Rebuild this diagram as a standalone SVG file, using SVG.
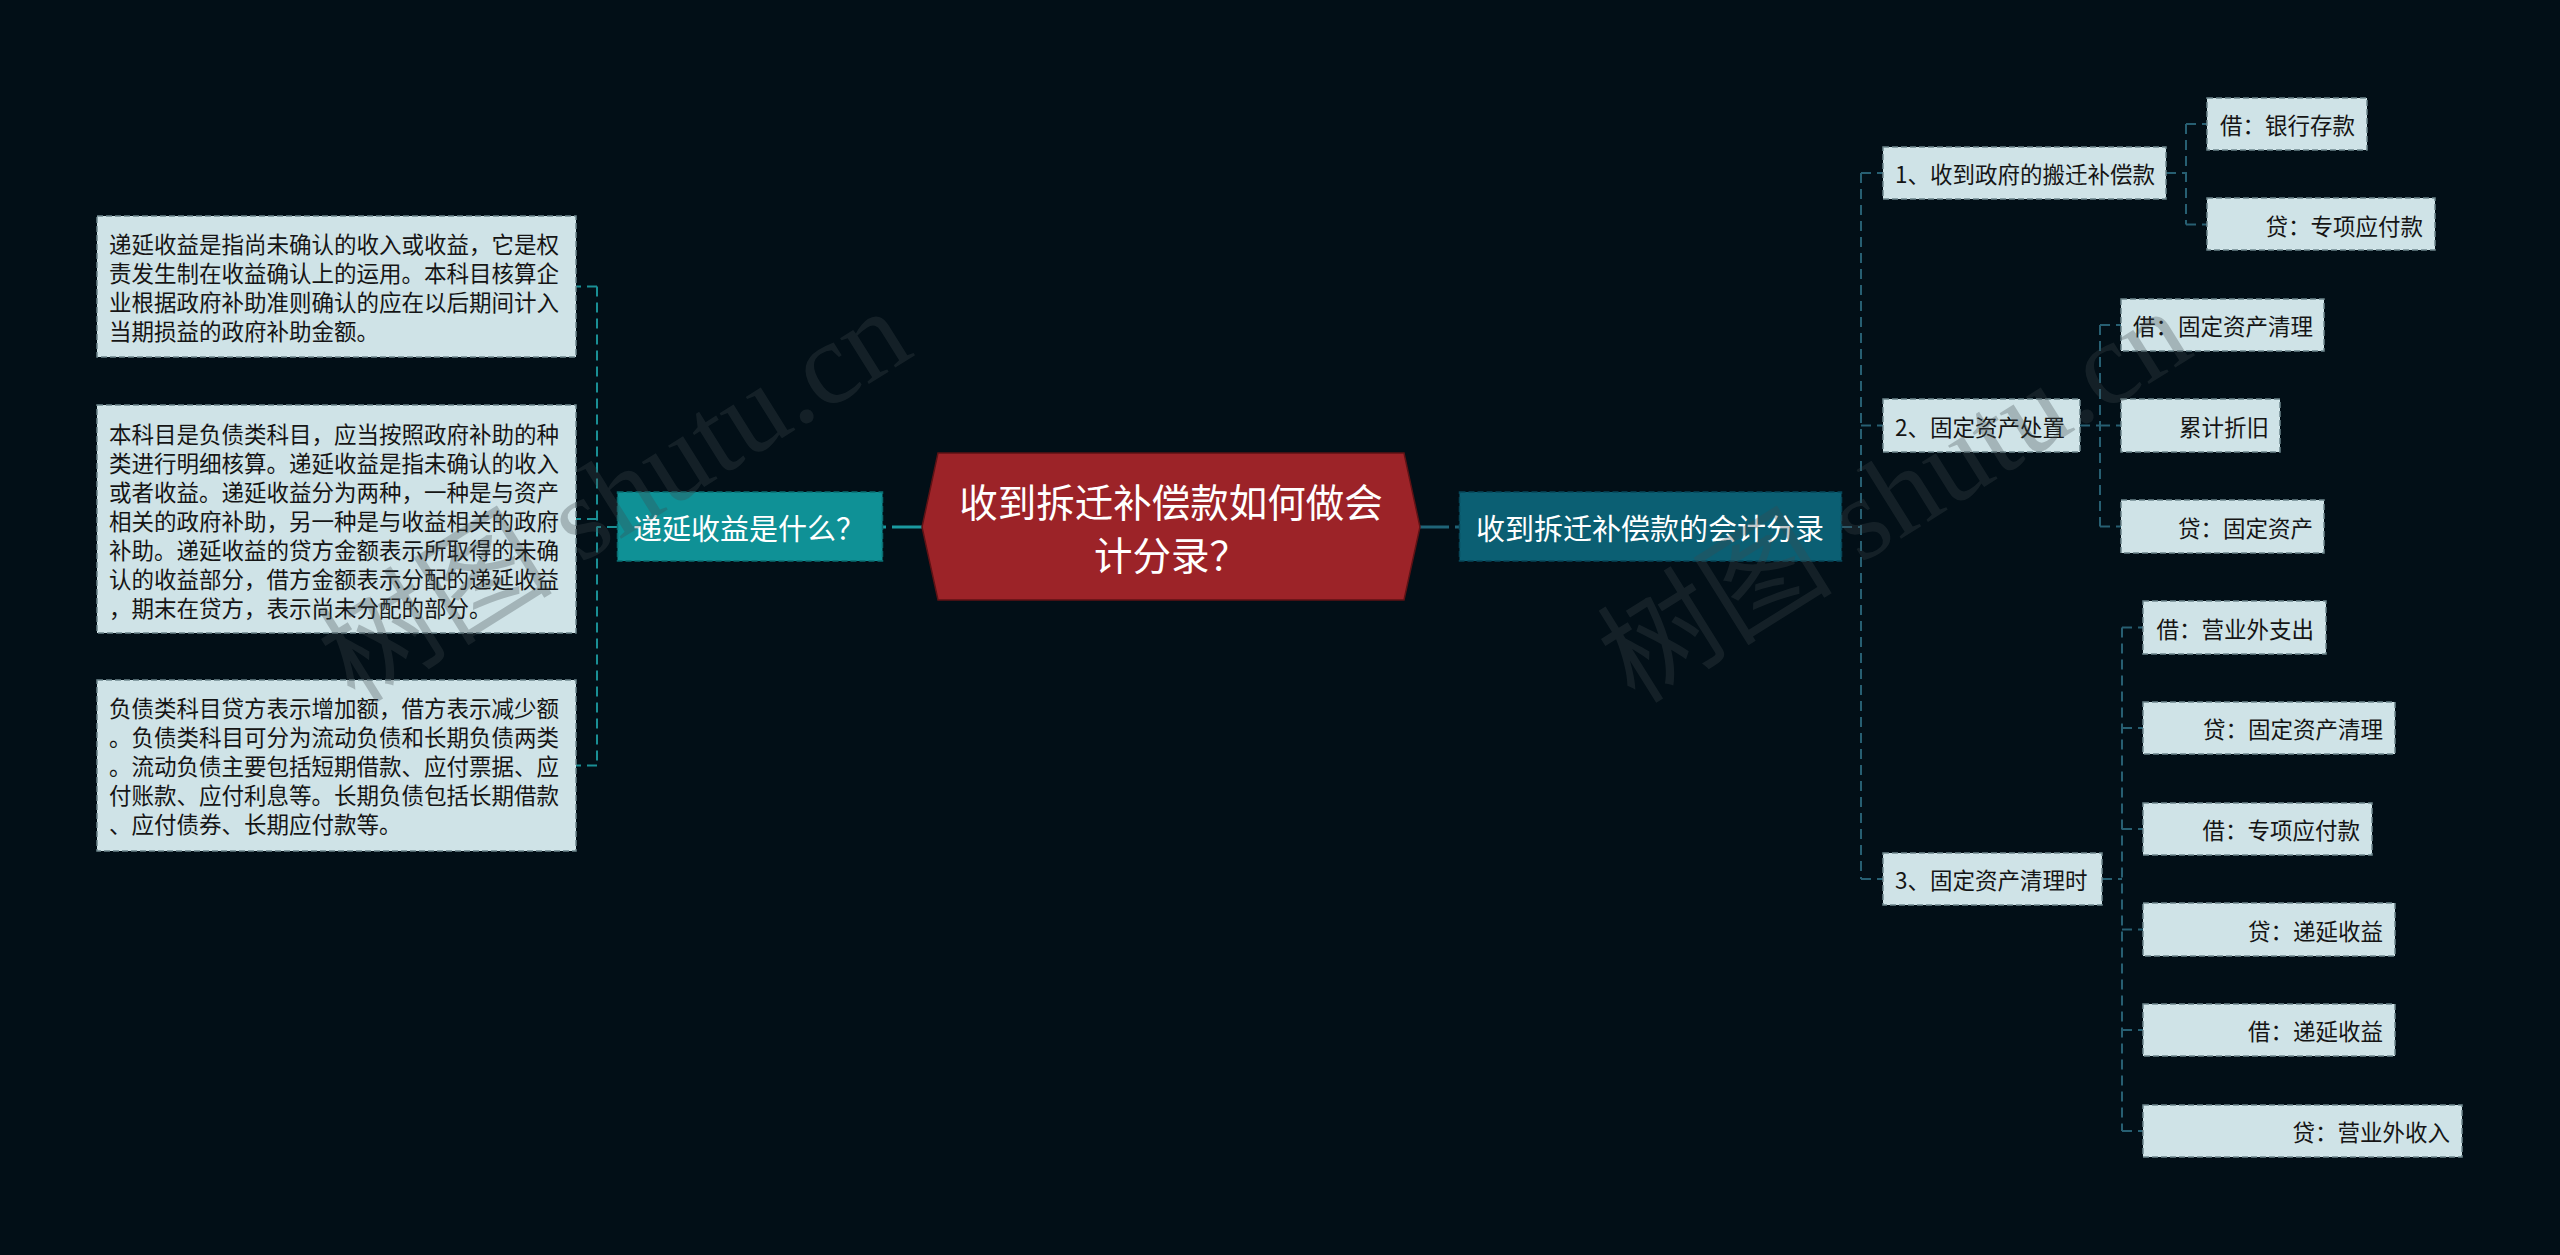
<svg xmlns="http://www.w3.org/2000/svg" width="2560" height="1255" viewBox="0 0 2560 1255">
<style>
text{font-family:"Noto Sans CJK SC","Noto Sans",sans-serif}
.bg{fill:#020f17}
.leaf{fill:#cfe3e7;stroke:#6e878d;stroke-width:1.5;stroke-dasharray:6 3}
.leaf-t{font-size:22.5px;fill:#151515;dominant-baseline:central}
.desc-t{font-size:22.5px;fill:#151515}
.teal{fill:#0f9196;stroke:#0a6d72;stroke-width:1.5;stroke-dasharray:6 3}
.blue{fill:#0b5f73;stroke:#07475a;stroke-width:1.5;stroke-dasharray:6 3}
.main-t{font-size:29px;fill:#ffffff;dominant-baseline:central}
.root{fill:#9c2328;stroke:#5e1215;stroke-width:1.5}
.root-t{font-size:38.5px;fill:#ffffff;dominant-baseline:central;text-anchor:middle}
.cl{fill:none;stroke:#1a8f95;stroke-width:2;stroke-dasharray:10 6}
.cr{fill:none;stroke:#275f72;stroke-width:2;stroke-dasharray:10 6}
.ctl{fill:none;stroke:#1a9aa0;stroke-width:3;stroke-dasharray:30 6}
.ctr{fill:none;stroke:#1f6478;stroke-width:3;stroke-dasharray:30 6}
.wm{font-family:"Liberation Serif","Noto Sans CJK SC",serif;font-size:118px;fill:#3f4a4e;opacity:0.3}
</style>
<rect class="bg" x="0" y="0" width="2560" height="1255"/>

<g id="connectors">
  <!-- center links -->
  <path class="ctl" d="M922,527 H883"/>
  <path class="ctr" d="M1419,527 H1460"/>
  <!-- left tree -->
  <path class="cl" d="M617,527 H597"/>
  <path class="cl" d="M597,286.5 V765.5"/>
  <path class="cl" d="M597,286.5 H576 M597,519 H576 M597,765.5 H576"/>
  <!-- right tree -->
  <path class="cr" d="M1842,527 H1861"/>
  <path class="cr" d="M1861,173 V879"/>
  <path class="cr" d="M1861,173 H1883 M1861,425.5 H1883 M1861,879 H1883"/>
  <!-- item1 children -->
  <path class="cr" d="M2166,173 H2186 M2186,124 V224.5 M2186,124 H2207 M2186,224.5 H2207"/>
  <!-- item2 children -->
  <path class="cr" d="M2080,425.5 H2100 M2100,325 V526.5 M2100,325 H2121 M2100,425.5 H2121 M2100,526.5 H2121"/>
  <!-- item3 children -->
  <path class="cr" d="M2102,879 H2122 M2122,627.5 V1131 M2122,627.5 H2143 M2122,728 H2143 M2122,829 H2143 M2122,929.5 H2143 M2122,1030 H2143 M2122,1131 H2143"/>
</g>

<g id="root">
  <polygon class="root" points="922,527 938,453 1404,453 1420,527 1404,600 938,600"/>
  <text class="root-t" x="1171" y="500">收到拆迁补偿款如何做会</text>
  <text class="root-t" x="1171" y="553">计分录？</text>
</g>

<g id="n-left">
  <rect class="teal" x="617.5" y="492" width="265" height="69"/>
  <text class="main-t" x="633" y="527">递延收益是什么？</text>
</g>

<g id="n-right">
  <rect class="blue" x="1459.5" y="492" width="382" height="69"/>
  <text class="main-t" x="1476" y="527">收到拆迁补偿款的会计分录</text>
</g>

<g id="desc1">
  <rect class="leaf" x="97" y="216" width="479" height="141"/>
  <text class="desc-t" x="109" dominant-baseline="central">
    <tspan x="109" y="243">递延收益是指尚未确认的收入或收益，它是权</tspan>
    <tspan x="109" y="272">责发生制在收益确认上的运用。本科目核算企</tspan>
    <tspan x="109" y="301">业根据政府补助准则确认的应在以后期间计入</tspan>
    <tspan x="109" y="330">当期损益的政府补助金额。</tspan>
  </text>
</g>

<g id="desc2">
  <rect class="leaf" x="97" y="405" width="479" height="228"/>
  <text class="desc-t" x="109" dominant-baseline="central">
    <tspan x="109" y="433">本科目是负债类科目，应当按照政府补助的种</tspan>
    <tspan x="109" y="462">类进行明细核算。递延收益是指未确认的收入</tspan>
    <tspan x="109" y="491">或者收益。递延收益分为两种，一种是与资产</tspan>
    <tspan x="109" y="520">相关的政府补助，另一种是与收益相关的政府</tspan>
    <tspan x="109" y="549">补助。递延收益的贷方金额表示所取得的未确</tspan>
    <tspan x="109" y="578">认的收益部分，借方金额表示分配的递延收益</tspan>
    <tspan x="109" y="607">，期末在贷方，表示尚未分配的部分。</tspan>
  </text>
</g>

<g id="desc3">
  <rect class="leaf" x="97" y="680" width="479" height="171"/>
  <text class="desc-t" x="109" dominant-baseline="central">
    <tspan x="109" y="707">负债类科目贷方表示增加额，借方表示减少额</tspan>
    <tspan x="109" y="736">。负债类科目可分为流动负债和长期负债两类</tspan>
    <tspan x="109" y="765">。流动负债主要包括短期借款、应付票据、应</tspan>
    <tspan x="109" y="794">付账款、应付利息等。长期负债包括长期借款</tspan>
    <tspan x="109" y="823">、应付债券、长期应付款等。</tspan>
  </text>
</g>

<g id="item1">
  <rect class="leaf" x="1883" y="147" width="283" height="52"/>
  <text class="leaf-t" x="1895" y="173">1、收到政府的搬迁补偿款</text>
</g>
<g id="item1-c1">
  <rect class="leaf" x="2207" y="98" width="160" height="52"/>
  <text class="leaf-t" x="2355" y="124" text-anchor="end">借：银行存款</text>
</g>
<g id="item1-c2">
  <rect class="leaf" x="2207" y="198" width="228" height="52"/>
  <text class="leaf-t" x="2423" y="224.5" text-anchor="end">贷：专项应付款</text>
</g>

<g id="item2">
  <rect class="leaf" x="1883" y="399" width="197" height="53"/>
  <text class="leaf-t" x="1895" y="425.5">2、固定资产处置</text>
</g>
<g id="item2-c1">
  <rect class="leaf" x="2121" y="299" width="203" height="52"/>
  <text class="leaf-t" x="2313" y="325" text-anchor="end">借：固定资产清理</text>
</g>
<g id="item2-c2">
  <rect class="leaf" x="2121" y="399" width="159" height="53"/>
  <text class="leaf-t" x="2269" y="425.5" text-anchor="end">累计折旧</text>
</g>
<g id="item2-c3">
  <rect class="leaf" x="2121" y="500" width="203" height="53"/>
  <text class="leaf-t" x="2313" y="526.5" text-anchor="end">贷：固定资产</text>
</g>

<g id="item3">
  <rect class="leaf" x="1883" y="853" width="219" height="52"/>
  <text class="leaf-t" x="1895" y="879">3、固定资产清理时</text>
</g>
<g id="item3-c1">
  <rect class="leaf" x="2143" y="601" width="183" height="53"/>
  <text class="leaf-t" x="2314" y="627.5" text-anchor="end">借：营业外支出</text>
</g>
<g id="item3-c2">
  <rect class="leaf" x="2143" y="702" width="252" height="52"/>
  <text class="leaf-t" x="2383" y="728" text-anchor="end">贷：固定资产清理</text>
</g>
<g id="item3-c3">
  <rect class="leaf" x="2143" y="803" width="229" height="52"/>
  <text class="leaf-t" x="2360" y="829" text-anchor="end">借：专项应付款</text>
</g>
<g id="item3-c4">
  <rect class="leaf" x="2143" y="903" width="252" height="53"/>
  <text class="leaf-t" x="2383" y="929.5" text-anchor="end">贷：递延收益</text>
</g>
<g id="item3-c5">
  <rect class="leaf" x="2143" y="1004" width="252" height="52"/>
  <text class="leaf-t" x="2383" y="1030" text-anchor="end">借：递延收益</text>
</g>
<g id="item3-c6">
  <rect class="leaf" x="2143" y="1105" width="319" height="52"/>
  <text class="leaf-t" x="2450" y="1131" text-anchor="end">贷：营业外收入</text>
</g>

<g id="watermarks">
  <text class="wm" transform="translate(355,705) rotate(-32)">树图 shutu.cn</text>
  <text class="wm" transform="translate(1635,705) rotate(-32)">树图 shutu.cn</text>
</g>
</svg>
